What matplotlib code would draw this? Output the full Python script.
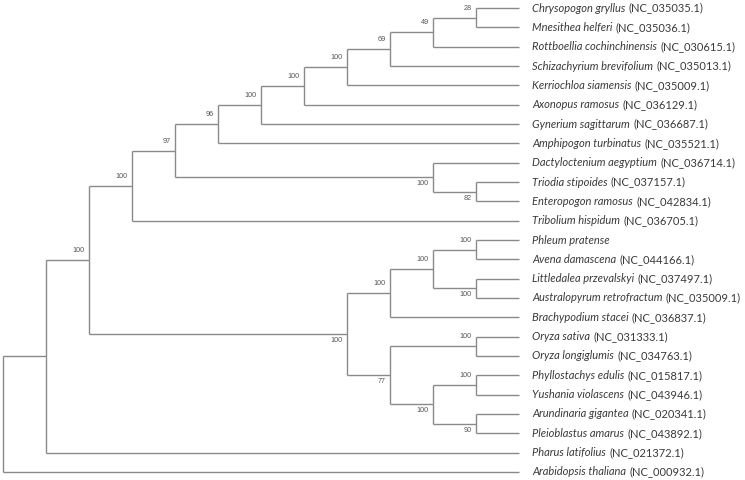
import matplotlib.pyplot as plt

# leaves, top to bottom
species = [
    "Chrysopogon gryllus", "Mnesithea helferi", "Rottboellia cochinchinensis",
    "Schizachyrium brevifolium", "Kerriochloa siamensis", "Axonopus ramosus",
    "Gynerium sagittarum", "Amphipogon turbinatus", "Dactyloctenium aegyptium",
    "Triodia stipoides", "Enteropogon ramosus", "Tribolium hispidum",
    "Phleum pratense", "Avena damascena", "Littledalea przevalskyi",
    "Australopyrum retrofractum", "Brachypodium stacei", "Oryza sativa",
    "Oryza longiglumis", "Phyllostachys edulis", "Yushania violascens",
    "Arundinaria gigantea", "Pleioblastus amarus", "Pharus latifolius",
    "Arabidopsis thaliana",
]
accessions = [
    "NC_035035.1", "NC_035036.1", "NC_030615.1", "NC_035013.1", "NC_035009.1",
    "NC_036129.1", "NC_036687.1", "NC_035521.1", "NC_036714.1", "NC_037157.1",
    "NC_042834.1", "NC_036705.1", "", "NC_044166.1", "NC_037497.1",
    "NC_035009.1", "NC_036837.1", "NC_031333.1", "NC_034763.1", "NC_015817.1",
    "NC_043946.1", "NC_020341.1", "NC_043892.1", "NC_021372.1", "NC_000932.1",
]

# topology as (upper child, lower child, bootstrap); ints are leaf indices
pacmad = (((((((((0, 1, "28"), 2, "49"), 3, "69"), 4, "100"), 5, "100"), 6, "100"), 7, "96"),
           (8, (9, 10, "82"), "100"), "97"), 11, "100")
pooideae = (((12, 13, "100"), (14, 15, "100"), "100"), 16, "100")
oryz_bamb = ((17, 18, "100"), ((19, 20, "100"), (21, 22, "90"), "100"), "77")
tree = (((pacmad, (pooideae, oryz_bamb, "100"), "100"), 23, ""), 24, "")

line_col = "#8a8a8a"
txt_col = "#3a3a3a"
sup_col = "#555555"


def height(n):
    if isinstance(n, int):
        return 0
    return 1 + max(height(n[0]), height(n[1]))


H = height(tree)

fig = plt.figure(figsize=(7.45, 4.8), dpi=100)
ax = fig.add_axes([0, 0, 1, 1])


def draw(n, parent_x=None, side=None):
    if isinstance(n, int):
        x, y = H, n
    else:
        x = H - height(n)
        y1 = draw(n[0], x, "up")
        y2 = draw(n[1], x, "down")
        y = (y1 + y2) / 2
        ax.plot([x, x], [y1, y2], color=line_col, lw=1.0, solid_capstyle="butt")
        if n[2] and side:
            dy = 6.8 if side == "up" else -4.6
            ax.annotate(n[2], (x, y), xytext=(-3, dy), textcoords="offset points",
                        ha="right", va="center", fontsize=5.2, color=sup_col,
                        family="Liberation Sans")
    if parent_x is not None:
        ax.plot([parent_x, x], [y, y], color=line_col, lw=1.0, solid_capstyle="butt")
    return y


draw(tree)

for i, (sp, acc) in enumerate(zip(species, accessions)):
    t = ax.text(H + 0.3, i, sp, style="italic", fontsize=8, family="Lato",
                color=txt_col, va="center", ha="left")
    if acc:
        ax.annotate("(" + acc + ")", xy=(1, 0.5), xycoords=t, xytext=(2.5, 0),
                    textcoords="offset points", va="center", ha="left",
                    fontsize=8, family="Lato", color=txt_col)

# 43 px per level, leaves 19.33 px apart
ax.set_xlim(-3 / 43, 742 / 43)
ax.set_ylim(24 + 8 / 19.33, -8 / 19.33)
ax.axis("off")

fig.savefig("out.png", dpi=100, facecolor="white")
